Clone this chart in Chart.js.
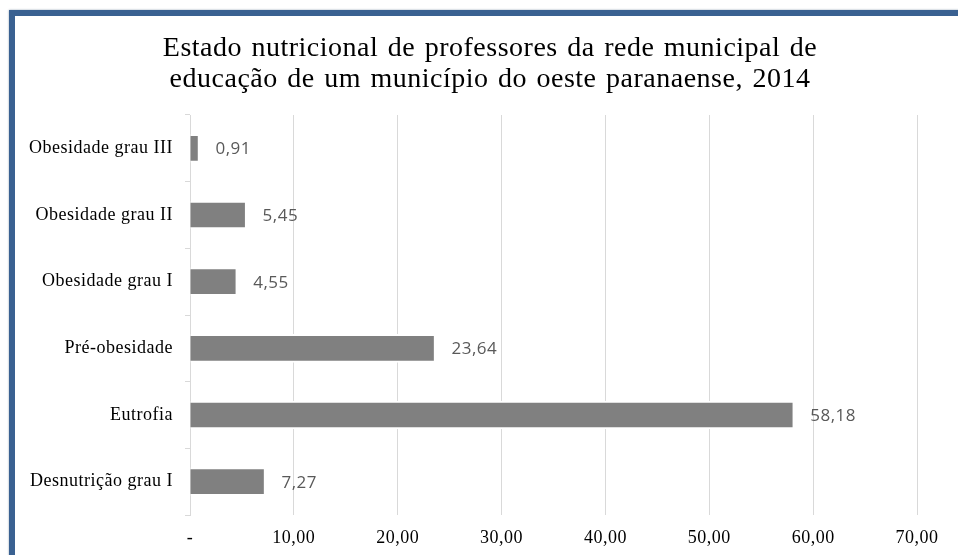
<!DOCTYPE html>
<html>
<head>
<meta charset="utf-8">
<script src="https://cdn.jsdelivr.net/npm/chart.js@4"></script>
<style>
    html, body { margin: 0; padding: 0; background: #fff; }
    .frame {
        position: absolute; left: 9px; top: 10px; width: 1000px; height: 600px;
        border: 6px solid #3a6191; box-shadow: 0 0 2px #9aa7b8;
    }
    .wrap { position: absolute; left: 0; top: 0; width: 958px; height: 555px; }
</style>
</head>
<body>
<div class="frame"></div>
<div class="wrap"><canvas id="nutriChart"></canvas></div>
<script>
const categories = ['Obesidade grau III', 'Obesidade grau II', 'Obesidade grau I', 'Pré-obesidade', 'Eutrofia', 'Desnutrição grau I'];
const percentages = [0.91, 5.45, 4.55, 23.64, 58.18, 7.27];
const titleLines = ['Estado nutricional de professores da rede municipal de', 'educação de um município do oeste paranaense, 2014'];

function fmt(v) {
    return v === 0 ? '-' : v.toFixed(2).replace('.', ',');
}

// slightly wider text, like the original export
const spacing = {
    id: 'spacing',
    beforeDraw(chart) {
        chart.ctx.letterSpacing = '0.5px';
    }
};

// two-line title, centred a bit right of the canvas middle
const titleText = {
    id: 'titleText',
    afterDraw(chart) {
        const ctx = chart.ctx;
        ctx.save();
        ctx.font = '28px "Liberation Serif"';
        ctx.letterSpacing = '0.5px';
        ctx.wordSpacing = '2px';
        ctx.fillStyle = '#000';
        ctx.textAlign = 'center';
        ctx.textBaseline = 'alphabetic';
        titleLines.forEach((line, i) => ctx.fillText(line, 490, 56 + i * 31));
        ctx.restore();
    }
};

// draws the value next to the end of each bar
const valueLabels = {
    id: 'valueLabels',
    afterDatasetsDraw(chart) {
        const ctx = chart.ctx;
        const meta = chart.getDatasetMeta(0);
        ctx.save();
        ctx.font = '17px "Open Sans"';
        ctx.letterSpacing = '0.5px';
        ctx.fillStyle = '#595959';
        ctx.textAlign = 'left';
        ctx.textBaseline = 'middle';
        meta.data.forEach((bar, i) => {
            ctx.fillText(fmt(percentages[i]), bar.x + 16, bar.y + 1);
        });
        ctx.restore();
    }
};

const ctx = document.getElementById('nutriChart').getContext('2d');
new Chart(ctx, {
    type: 'bar',
    data: {
        labels: categories,
        datasets: [{
            data: percentages,
            backgroundColor: '#808080',
            borderColor: '#ffffff',
            borderWidth: 2,
            borderSkipped: 'start',
            barThickness: 28
        }]
    },
    options: {
        indexAxis: 'y',
        responsive: true,
        maintainAspectRatio: false,
        animation: false,
        layout: { padding: { left: 0, right: 41, top: 115, bottom: 0 } },
        plugins: {
            legend: { display: false },
            tooltip: { enabled: false },
            title: { display: false }
        },
        scales: {
            x: {
                min: 0,
                max: 70,
                ticks: {
                    stepSize: 10,
                    padding: 12,
                    color: '#000',
                    font: { family: '"Liberation Serif"', size: 18 },
                    callback: v => fmt(v)
                },
                grid: { color: '#d9d9d9', drawTicks: false },
                border: { display: false },
                afterFit(scale) { scale.height = 40; }
            },
            y: {
                offset: true,
                ticks: {
                    padding: 12,
                    color: '#000',
                    font: { family: '"Liberation Serif"', size: 18 }
                },
                grid: { offset: true, drawOnChartArea: false, tickLength: 5, color: '#d9d9d9' },
                border: { color: '#d9d9d9' },
                afterFit(scale) { scale.width = 190; }
            }
        }
    },
    plugins: [spacing, valueLabels, titleText]
});
</script>
</body>
</html>
